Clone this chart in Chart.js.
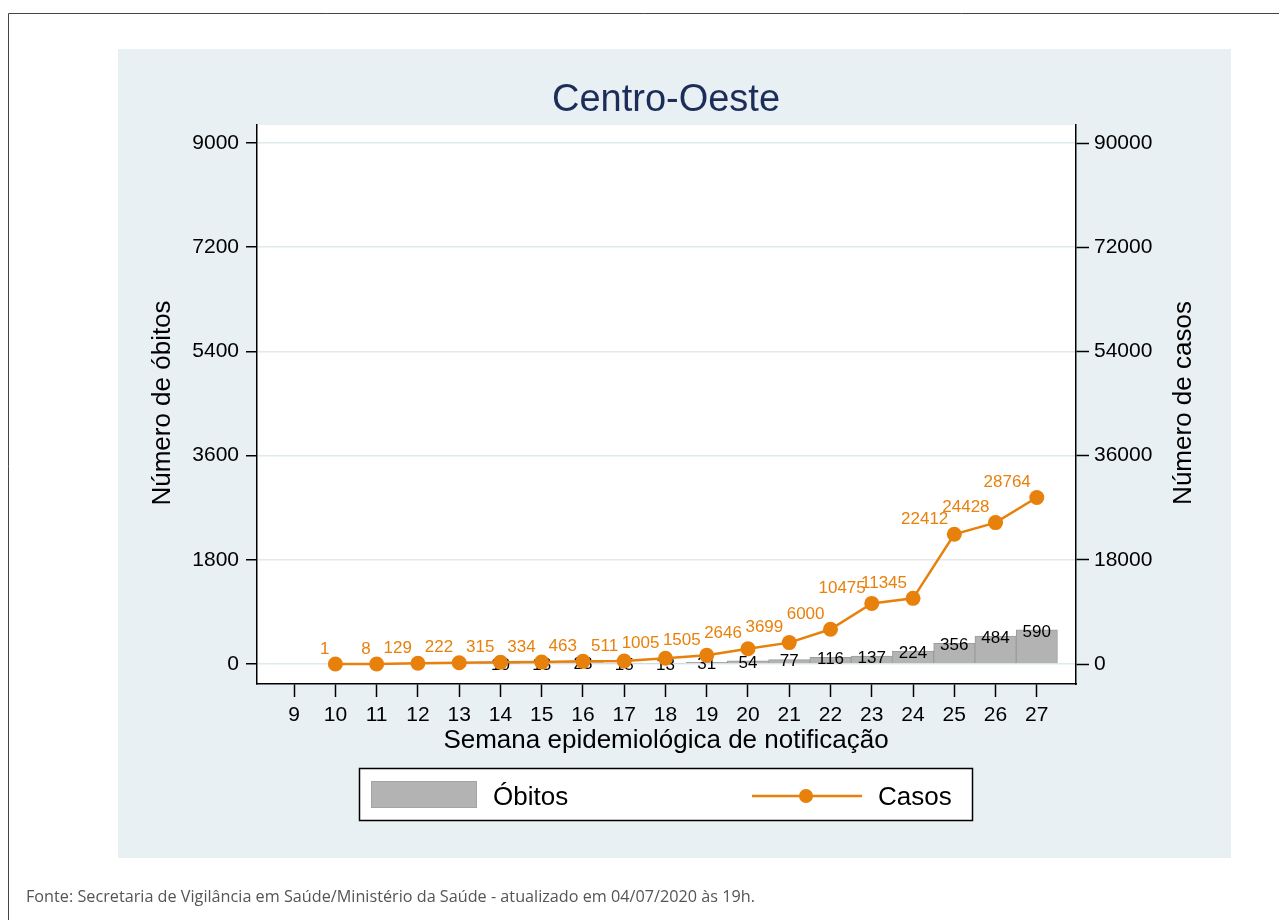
<!doctype html>
<html>

<head>
	<title>Centro-Oeste</title>
	<script src="https://cdn.jsdelivr.net/npm/chart.js@4/dist/chart.umd.min.js"></script>
	<style>
	html, body {
		margin: 0;
		padding: 0;
		background: #fff;
	}
	canvas {
		display: block;
	}
	</style>
</head>

<body>
	<canvas id="chart" width="1279" height="920"></canvas>
	<script>
		// semanas epidemiológicas
		var weeks = [10, 11, 12, 13, 14, 15, 16, 17, 18, 19, 20, 21, 22, 23, 24, 25, 26, 27];
		var obitos = [0, 0, 0, 0, 10, 13, 23, 15, 13, 31, 54, 77, 116, 137, 224, 356, 484, 590];
		var casos = [1, 8, 129, 222, 315, 334, 463, 511, 1005, 1505, 2646, 3699, 6000, 10475, 11345, 22412, 24428, 28764];
		var xTicks = [9, 10, 11, 12, 13, 14, 15, 16, 17, 18, 19, 20, 21, 22, 23, 24, 25, 26, 27];
		var yLeftTicks = [0, 1800, 3600, 5400, 7200, 9000];
		var yRightTicks = [0, 18000, 36000, 54000, 72000, 90000];

		var ORANGE = '#e8800c';
		var FONT = '"Liberation Sans", Arial, sans-serif';

		function points(values) {
			return weeks.map(function(w, i) {
				return { x: w, y: values[i] };
			});
		}

		function fixTicks(list) {
			return function(scale) {
				scale.ticks = list.map(function(v) { return { value: v }; });
			};
		}

		var background = {
			id: 'background',
			beforeDraw: function(chart) {
				var ctx = chart.ctx;
				var a = chart.chartArea;
				ctx.save();
				ctx.fillStyle = '#fff';
				ctx.fillRect(0, 0, chart.width, chart.height);
				// page frame
				ctx.strokeStyle = '#444';
				ctx.lineWidth = 1;
				ctx.beginPath();
				ctx.moveTo(8.5, 920);
				ctx.lineTo(8.5, 13.5);
				ctx.lineTo(1279, 13.5);
				ctx.stroke();
				// panel
				ctx.fillStyle = '#e8f0f3';
				ctx.fillRect(118, 49, 1113, 809);
				ctx.fillStyle = '#fff';
				ctx.fillRect(a.left, a.top, a.right - a.left, a.bottom - a.top);
				ctx.restore();
			}
		};

		var labels = {
			id: 'labels',
			afterDatasetDraw: function(chart, args) {
				if (args.index !== 0) return;
				var ctx = chart.ctx;
				var meta = chart.getDatasetMeta(0);
				ctx.save();
				ctx.font = '17px ' + FONT;
				ctx.fillStyle = '#000';
				ctx.textAlign = 'center';
				ctx.textBaseline = 'middle';
				meta.data.forEach(function(bar, i) {
					if (!obitos[i]) return;
					ctx.fillText(String(obitos[i]), bar.x, bar.y + 2);
				});
				ctx.restore();
			},
			afterDatasetsDraw: function(chart) {
				var ctx = chart.ctx;
				var meta = chart.getDatasetMeta(1);
				ctx.save();
				ctx.font = '17px ' + FONT;
				ctx.fillStyle = ORANGE;
				ctx.textAlign = 'right';
				ctx.textBaseline = 'middle';
				meta.data.forEach(function(pt, i) {
					ctx.fillText(String(casos[i]), pt.x - 6, pt.y - 15);
				});
				ctx.restore();
			},
			afterDraw: function(chart) {
				var ctx = chart.ctx;
				ctx.save();
				// title
				ctx.fillStyle = '#1c2d5a';
				ctx.font = '38px ' + FONT;
				ctx.textAlign = 'center';
				ctx.textBaseline = 'middle';
				ctx.fillText('Centro-Oeste', 666, 101);

				// axis titles
				ctx.fillStyle = '#000';
				ctx.font = '26px ' + FONT;
				ctx.fillText('Semana epidemiológica de notificação', 666, 741);
				ctx.save();
				ctx.translate(163, 403);
				ctx.rotate(-Math.PI / 2);
				ctx.fillText('Número de óbitos', 0, 0);
				ctx.restore();
				ctx.save();
				ctx.translate(1184, 403);
				ctx.rotate(-Math.PI / 2);
				ctx.fillText('Número de casos', 0, 0);
				ctx.restore();

				// legend
				ctx.fillStyle = '#fff';
				ctx.fillRect(359, 768, 613, 52);
				ctx.strokeStyle = '#000';
				ctx.lineWidth = 1.5;
				ctx.strokeRect(359.5, 768.5, 613, 52);
				ctx.fillStyle = '#b3b3b3';
				ctx.fillRect(371, 781, 106, 27);
				ctx.strokeStyle = '#a3a3a3';
				ctx.lineWidth = 1;
				ctx.strokeRect(371.5, 781.5, 105, 26);
				ctx.fillStyle = '#000';
				ctx.textAlign = 'left';
				ctx.font = '26px ' + FONT;
				ctx.fillText('Óbitos', 493, 798);
				ctx.fillText('Casos', 878, 798);
				ctx.strokeStyle = ORANGE;
				ctx.lineWidth = 2.5;
				ctx.beginPath();
				ctx.moveTo(752, 796);
				ctx.lineTo(862, 796);
				ctx.stroke();
				ctx.fillStyle = ORANGE;
				ctx.beginPath();
				ctx.arc(806, 796, 7, 0, Math.PI * 2);
				ctx.fill();

				// footer
				ctx.fillStyle = '#555';
				ctx.font = '17px "Open Sans", sans-serif';
				ctx.fillText('Fonte: Secretaria de Vigilância em Saúde/Ministério da Saúde - atualizado em 04/07/2020 às 19h.', 26, 897, 729);
				ctx.restore();
			}
		};

		window.onload = function() {
			var ctx = document.getElementById('chart').getContext('2d');
			new Chart(ctx, {
				type: 'bar',
				data: {
					datasets: [{
						type: 'bar',
						label: 'Óbitos',
						data: points(obitos),
						yAxisID: 'y',
						backgroundColor: '#b3b3b3',
						borderColor: '#9c9c9c',
						borderWidth: 1,
						barPercentage: 1,
						categoryPercentage: 1,
						order: 2
					}, {
						type: 'line',
						label: 'Casos',
						data: points(casos),
						yAxisID: 'y2',
						borderColor: ORANGE,
						backgroundColor: ORANGE,
						borderWidth: 2.5,
						pointRadius: 7.5,
						pointBorderWidth: 0,
						pointBackgroundColor: ORANGE,
						tension: 0,
						clip: false,
						order: 1
					}]
				},
				options: {
					responsive: false,
					animation: false,
					devicePixelRatio: 1,
					layout: { padding: { top: 125, left: 0, right: 0, bottom: 0 } },
					plugins: {
						legend: { display: false },
						title: { display: false },
						tooltip: { enabled: false }
					},
					scales: {
						x: {
							type: 'linear',
							min: 8.1,
							max: 27.95,
							offset: false,
							afterBuildTicks: fixTicks(xTicks),
							afterFit: function(scale) { scale.height = 236; },
							grid: { offset: false, drawOnChartArea: false, tickColor: '#000', tickLength: 13, tickWidth: 1.5 },
							border: { display: true, color: '#000', width: 1.5 },
							ticks: {
								padding: 6,
								color: '#000',
								font: { family: FONT, size: 21 },
								maxRotation: 0,
								autoSkip: false,
								callback: function(v) { return String(v); }
							}
						},
						y: {
							position: 'left',
							min: -345,
							max: 9311,
							afterBuildTicks: fixTicks(yLeftTicks),
							afterFit: function(scale) { scale.width = 257; },
							grid: { color: '#e0eaee', lineWidth: 1.5, tickColor: '#000', tickLength: 11, tickWidth: 1.5 },
							border: { display: true, color: '#000', width: 1.5 },
							ticks: {
								padding: 7,
								color: '#000',
								font: { family: FONT, size: 21 },
								callback: function(v) { return String(v); }
							}
						},
						y2: {
							position: 'right',
							min: -3450,
							max: 93110,
							afterBuildTicks: fixTicks(yRightTicks),
							afterFit: function(scale) { scale.width = 203; },
							grid: { drawOnChartArea: false, tickColor: '#000', tickLength: 13, tickWidth: 1.5 },
							border: { display: true, color: '#000', width: 1.5 },
							ticks: {
								padding: 5,
								color: '#000',
								font: { family: FONT, size: 21 },
								callback: function(v) { return String(v); }
							}
						}
					}
				},
				plugins: [background, labels]
			});
		};
	</script>
</body>

</html>
